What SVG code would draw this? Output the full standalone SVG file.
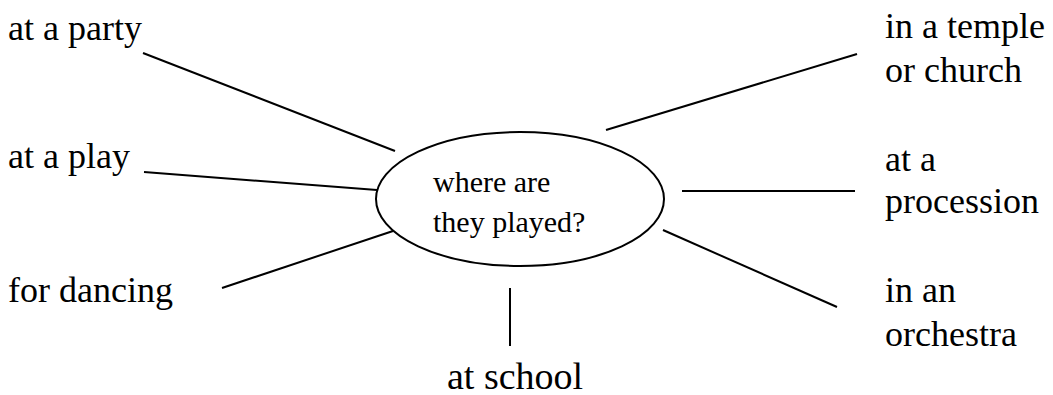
<svg xmlns="http://www.w3.org/2000/svg" width="1053" height="395" viewBox="0 0 1053 395">
  <style>
    .lbl { font-size: 36px; fill: #000; }
    .hub { font-size: 30px; fill: #000; }
    .ln { stroke: #000; stroke-width: 2; fill: none; }
  </style>
  <rect width="1053" height="395" fill="#fff"/>

  <!-- spokes from the central question -->
  <g id="connectors">
    <line class="ln" x1="143" y1="53" x2="395" y2="151"/>
    <line class="ln" x1="144" y1="172" x2="377" y2="190"/>
    <line class="ln" x1="222" y1="288" x2="393" y2="231"/>
    <line class="ln" x1="510" y1="288" x2="510" y2="346"/>
    <line class="ln" x1="606" y1="130" x2="857" y2="54"/>
    <line class="ln" x1="682" y1="191" x2="855" y2="191"/>
    <line class="ln" x1="663" y1="230" x2="837" y2="307"/>
  </g>

  <g font-family="Liberation Serif, Tinos, DejaVu Serif, serif">
    <g id="hub">
      <ellipse class="ln" cx="520" cy="199" rx="144" ry="67"/>
      <text class="hub" x="433" y="192">where are</text>
      <text class="hub" x="433" y="232">they played?</text>
    </g>

    <g id="party"><text class="lbl" x="8" y="40">at a party</text></g>
    <g id="play"><text class="lbl" x="8" y="168">at a play</text></g>
    <g id="dancing"><text class="lbl" x="8" y="302">for dancing</text></g>
    <g id="school"><text class="lbl" x="447" y="389" style="font-size:38px">at school</text></g>
    <g id="temple">
      <text class="lbl" x="885" y="38">in a temple</text>
      <text class="lbl" x="885" y="82">or church</text>
    </g>
    <g id="procession">
      <text class="lbl" x="885" y="171">at a</text>
      <text class="lbl" x="885" y="213">procession</text>
    </g>
    <g id="orchestra">
      <text class="lbl" x="885" y="302">in an</text>
      <text class="lbl" x="885" y="346">orchestra</text>
    </g>
  </g>
</svg>
